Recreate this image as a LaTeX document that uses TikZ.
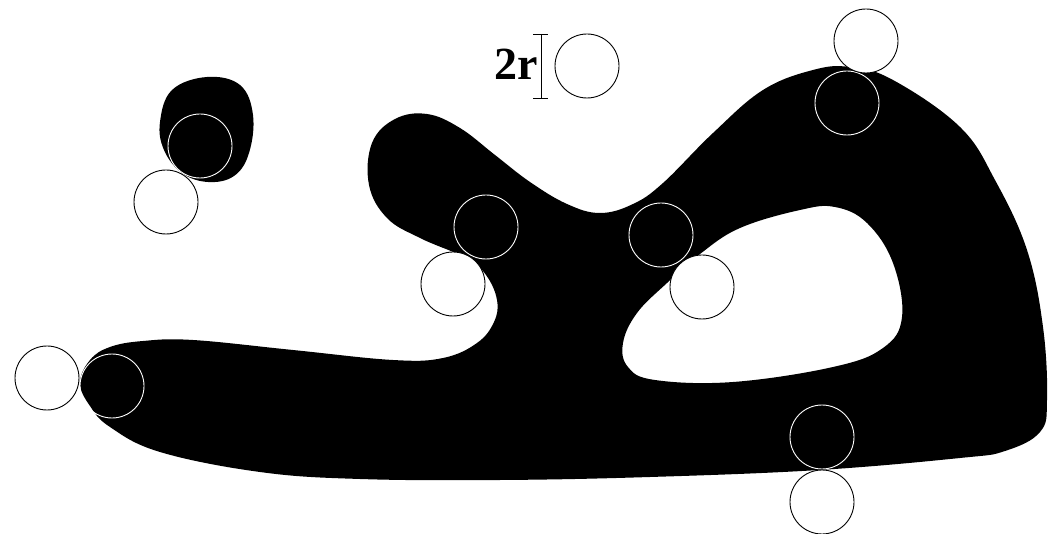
\documentclass[tikz,border=0pt]{standalone}
\usepackage{fontspec}
\setmainfont{Liberation Serif}
\usepackage{tikz}
\usetikzlibrary{calc, positioning}
\tikzset{
  inball/.style={draw=white, line width=0.9pt},
  outball/.style={draw=black, fill=white, line width=0.9pt}
}

\begin{document}
\begin{tikzpicture}[x=1pt, y=-1pt]
  \useasboundingbox (0,0) rectangle (1055,534);
  % the big set with its hole
  \fill[black, even odd rule]
    plot[smooth cycle, tension=0.65] coordinates {
      (80,383) (90,360) (110,347) (143,341) (193,340) (293,350) (393,360)
      (443,358) (477,343) (494,322) (497,300) (486,275) (466,258) (420,238)
      (387,218) (369,185) (372,143) (395,119) (427,114) (460,128) (495,155)
      (530,182) (567,204) (600,213) (633,204) (663,183) (713,133) (763,90)
      (813,70) (850,67) (893,80) (960,127) (995,180) (1027,250) (1043,327)
      (1047,400) (1040,432) (1005,451) (960,458) (819,470) (650,477)
      (500,480) (360,479) (260,472) (160,452) (110,427) (90,406)}
    plot[smooth cycle, tension=0.65] coordinates {
      (623,343) (637,313) (667,283) (700,254) (740,228) (800,210) (835,207)
      (867,223) (893,263) (902,317) (883,348) (833,367) (733,382) (655,380)
      (628,367)};
  % the small set
  \fill[black] plot[smooth cycle, tension=0.65] coordinates {
      (207,77) (240,85) (253,115) (249,153) (234,176) (208,182) (182,173)
      (164,150) (160,122) (172,90)};
  % balls inside
  \draw[inball] (200,146) circle[radius=32pt];
  \draw[inball] (112,386) circle[radius=32pt];
  \draw[inball] (486,227) circle[radius=32pt];
  \draw[inball] (661,235) circle[radius=32pt];
  \draw[inball] (847,103) circle[radius=32pt];
  \draw[inball] (822,437) circle[radius=32pt];
  % balls outside
  \draw[outball] (166,202) circle[radius=32pt];
  \draw[outball] (47,378) circle[radius=32pt];
  \draw[outball] (453,284) circle[radius=32pt];
  \draw[outball] (702,287) circle[radius=32pt];
  \draw[outball] (866,41) circle[radius=32pt];
  \draw[outball] (822,502) circle[radius=32pt];
  % size of a ball
  \draw[outball] (587,66) circle[radius=32pt];
  \coordinate (bartop) at (541,34);
  \coordinate (barbot) at (541,98);
  \draw[line width=0.9pt] (bartop) -- (barbot);
  \draw[line width=0.9pt] ($(bartop)+(-8,0)$) -- ($(bartop)+(7,0)$);
  \draw[line width=0.9pt] ($(barbot)+(-8,0)$) -- ($(barbot)+(7,0)$);
  \node[anchor=base east, inner sep=0pt, font=\fontsize{46}{50}\selectfont\bfseries]
    (diam) at (538,80) {2r};
\end{tikzpicture}
\end{document}
